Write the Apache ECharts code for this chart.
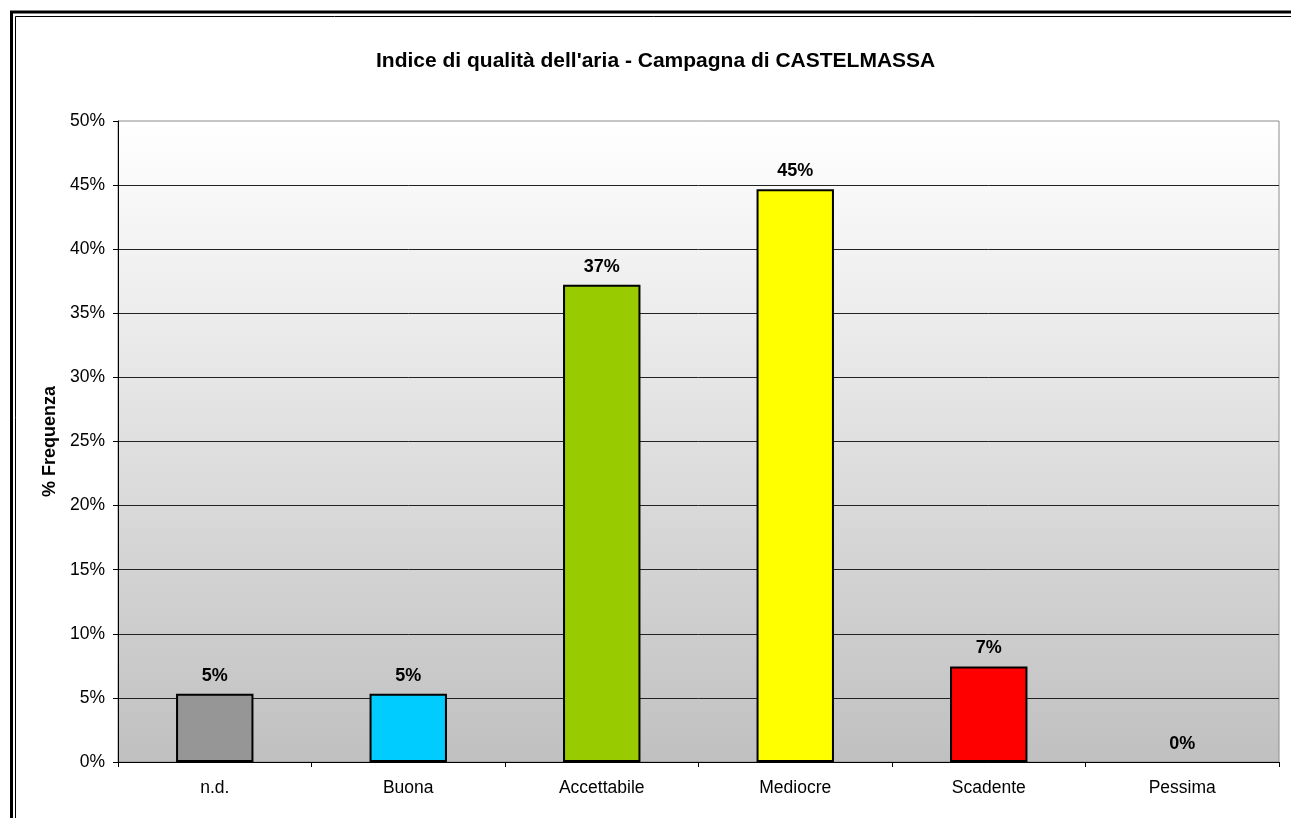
<!DOCTYPE html>
<html>
<head>
<meta charset="utf-8">
<script src="https://cdn.jsdelivr.net/npm/echarts@6/dist/echarts.min.js"></script>
<style>
html,body{margin:0;padding:0;background:#fff;overflow:hidden;}
#chart{width:1291px;height:818px;}
</style>
</head>
<body>
<div id="chart"></div>
<script>
const titleText = "Indice di qualità dell'aria - Campagna di CASTELMASSA";
const yAxisName = "% Frequenza";
const categories = ["n.d.", "Buona", "Accettabile", "Mediocre", "Scadente", "Pessima"];
const values = [5.32, 5.32, 37.23, 44.68, 7.45, 0];
const barColors = ["#969696", "#00CCFF", "#99CC00", "#FFFF00", "#FF0000", "#3366FF"];
const yTicks = { min: 0, max: 50, interval: 5 };

const FONT = "'Liberation Sans', Arial, sans-serif";
const chart = echarts.init(document.getElementById('chart'), null, { renderer: 'canvas' });

chart.setOption({
  animation: false,
  backgroundColor: '#ffffff',
  textStyle: { fontFamily: FONT },
  title: {
    text: titleText,
    left: 376,
    top: 51,
    padding: 0,
    textStyle: { fontFamily: FONT, fontSize: 21, fontWeight: 'bold', color: '#000' }
  },
  graphic: [
    { type: 'rect', silent: true, shape: { x: 11.5, y: 12, width: 2000, height: 2000 },
      style: { fill: 'none', stroke: '#000', lineWidth: 3 } },
    { type: 'rect', silent: true, shape: { x: 15.5, y: 16.5, width: 2000, height: 2000 },
      style: { fill: 'none', stroke: '#000', lineWidth: 1 } }
  ],
  grid: {
    left: 118, right: 12, top: 121, bottom: 56,
    show: true,
    borderColor: '#8c8c8c',
    borderWidth: 1,
    backgroundColor: new echarts.graphic.LinearGradient(0, 0, 0, 1, [
      { offset: 0, color: '#ffffff' },
      { offset: 1, color: '#c0c0c0' }
    ])
  },
  xAxis: {
    type: 'category',
    data: categories,
    boundaryGap: true,
    axisLine: { show: true, lineStyle: { color: '#000', width: 1 } },
    axisTick: { show: true, alignWithLabel: false, length: 5, lineStyle: { color: '#000' } },
    axisLabel: { color: '#000', fontSize: 17.5, fontFamily: FONT, margin: 17 },
    splitLine: { show: false }
  },
  yAxis: {
    type: 'value',
    min: yTicks.min, max: yTicks.max, interval: yTicks.interval,
    name: yAxisName,
    nameLocation: 'middle',
    nameRotate: 90,
    nameGap: 59,
    nameTextStyle: { color: '#000', fontSize: 18, fontWeight: 'bold', fontFamily: FONT },
    axisLine: { show: true, lineStyle: { color: '#000', width: 1 } },
    axisTick: { show: true, length: 5, lineStyle: { color: '#000' } },
    axisLabel: { color: '#000', fontSize: 17.5, fontFamily: FONT, margin: 13, formatter: '{value}%' },
    splitLine: { show: true, showMinLine: false, showMaxLine: false, lineStyle: { color: '#222', width: 1 } }
  },
  series: [{
    type: 'bar',
    barWidth: '40%',
    data: values.map((v, i) => ({
      value: v,
      itemStyle: { color: barColors[i], borderWidth: v === 0 ? 0 : 2 }
    })),
    itemStyle: { borderColor: '#000', borderWidth: 2 },
    label: {
      show: true,
      position: 'top',
      distance: 9,
      color: '#000',
      fontSize: 18,
      fontWeight: 'bold',
      fontFamily: FONT,
      formatter: p => Math.round(p.value) + '%'
    }
  }]
});
</script>
</body>
</html>
